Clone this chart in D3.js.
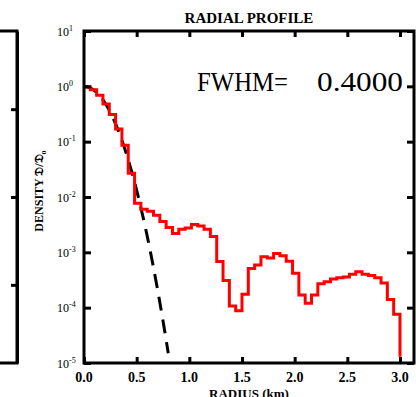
<!DOCTYPE html>
<html>
<head>
<meta charset="utf-8">
<script src="https://cdn.jsdelivr.net/npm/d3@7"></script>
<style>
  body { margin: 0; background: #fff; }
  svg { display: block; }
</style>
</head>
<body>
<script>
    // Histogram bins (radius in km), red profile values per bin
    var binWidth = 0.06;
    var profileValues = [0.97, 0.87, 0.69, 0.48, 0.31, 0.17, 0.086, 0.027, 0.0077, 0.0060,
                         0.0055, 0.0047, 0.0036, 0.0028, 0.0022, 0.0026, 0.00275, 0.0032, 0.0030, 0.0026,
                         0.00194, 6.8e-4, 3.1e-4, 1.07e-4, 8.8e-5, 1.74e-4, 5.1e-4, 5.9e-4, 8.3e-4, 7.9e-4,
                         9.5e-4, 8.7e-4, 6.9e-4, 4.2e-4, 1.7e-4, 1.2e-4, 1.7e-4, 2.7e-4, 2.94e-4, 3.3e-4,
                         3.47e-4, 3.6e-4, 4.0e-4, 4.45e-4, 4.0e-4, 3.8e-4, 3.47e-4, 2.8e-4, 1.4e-4, 7.6e-5];
    var profileEnd = 1.3e-5;

    // Dashed gaussian (FWHM 0.4)
    var gaussRadius = [0, 0.05, 0.1, 0.15, 0.2, 0.25, 0.3, 0.35, 0.4, 0.45, 0.5, 0.55, 0.6, 0.65, 0.7, 0.75, 0.8];
    var gaussValues = [1, 0.958, 0.841, 0.677, 0.50, 0.339, 0.210, 0.120, 0.0625, 0.030, 0.0132, 0.0053, 0.00197, 6.6e-4, 2.04e-4, 5.8e-5, 1.5e-5];

    // Tick labels
    var xTicks = [0.0, 0.5, 1.0, 1.5, 2.0, 2.5, 3.0];
    var yExponents = [1, 0, -1, -2, -3, -4, -5];
    var leftPanelTicks = [-1, 0, 1];

    var W = 416, H = 397;
    var margin = {top: 31, right: 2, bottom: 34, left: 84};
    var width = W - margin.left - margin.right;
    var height = H - margin.top - margin.bottom;

    var serif = "'Liberation Serif', 'Times New Roman', serif";

    var svg = d3.select("body").append("svg")
                .attr("width", W)
                .attr("height", H);

    // Set the ranges
    var x = d3.scaleLinear().domain([0, 3.133]).range([margin.left, margin.left + width]);
    var y = d3.scaleLog().domain([1e-5, 10]).range([margin.top + height, margin.top]);

    var decades = yExponents.map(function(e) { return Math.pow(10, e); });

    // Left (cut off) panel: only its right edge is visible
    var yLeft = d3.scaleLinear().domain([-1.89, 1.89]).range([margin.top + height, margin.top]);
    svg.append("g")
       .attr("transform", "translate(17,0)")
       .call(d3.axisRight(yLeft).tickValues(leftPanelTicks).tickSizeInner(-6).tickSizeOuter(0).tickFormat(""))
       .call(function(g) {
           g.selectAll("line").attr("stroke-width", 3);
           g.select(".domain").attr("stroke-width", 3);
       });
    svg.append("path")
       .attr("d", "M0," + margin.top + "H17V" + (margin.top + height) + "H0")
       .attr("fill", "none")
       .attr("stroke", "#000")
       .attr("stroke-width", 3);

    // Profile histogram
    var profilePts = profileValues.map(function(v, i) { return [i * binWidth, v]; });
    profilePts.push([profileValues.length * binWidth, profileEnd]);

    var stepLine = d3.line()
                     .x(function(d) { return x(d[0]); })
                     .y(function(d) { return y(d[1]); })
                     .curve(d3.curveStepAfter);

    var gaussLine = d3.line()
                      .x(function(d, i) { return x(gaussRadius[i]); })
                      .y(function(d) { return y(d); })
                      .curve(d3.curveMonotoneX);

    svg.append("path")
       .datum(gaussValues)
       .attr("d", gaussLine)
       .attr("fill", "none")
       .attr("stroke", "#000")
       .attr("stroke-width", 3)
       .attr("stroke-dasharray", "14,9");

    svg.append("path")
       .datum(profilePts)
       .attr("d", stepLine)
       .attr("fill", "none")
       .attr("stroke", "#ff0000")
       .attr("stroke-width", 3)
       .attr("stroke-linejoin", "miter");

    // Axes (ticks pointing inward)
    var styleAxis = function(g) {
        g.select(".domain").remove();
        g.selectAll("line").attr("stroke", "#000").attr("stroke-width", 3);
    };

    svg.append("g")
       .attr("transform", "translate(" + margin.left + ",0)")
       .call(d3.axisLeft(y).tickValues(decades).tickSizeInner(-7).tickSizeOuter(0).tickFormat(""))
       .call(styleAxis);
    svg.append("g")
       .attr("transform", "translate(" + (margin.left + width) + ",0)")
       .call(d3.axisRight(y).tickValues(decades).tickSizeInner(-7).tickSizeOuter(0).tickFormat(""))
       .call(styleAxis);
    svg.append("g")
       .attr("transform", "translate(0," + (margin.top + height) + ")")
       .call(d3.axisBottom(x).tickValues(xTicks).tickSizeInner(-6).tickSizeOuter(0).tickFormat(""))
       .call(styleAxis);
    svg.append("g")
       .attr("transform", "translate(0," + margin.top + ")")
       .call(d3.axisTop(x).tickValues(xTicks).tickSizeInner(-6).tickSizeOuter(0).tickFormat(""))
       .call(styleAxis);

    // Frame
    svg.append("rect")
       .attr("x", margin.left)
       .attr("y", margin.top)
       .attr("width", width)
       .attr("height", height)
       .attr("fill", "none")
       .attr("stroke", "#000")
       .attr("stroke-width", 3);

    // Y tick labels 10^n
    var yLab = svg.append("g").selectAll("text")
                  .data(yExponents)
                  .enter().append("text")
                  .attr("x", 57)
                  .attr("y", function(d) { return y(Math.pow(10, d)) + 4.5; })
                  .style("font-family", serif)
                  .style("font-size", "12px");
    yLab.append("tspan").text("10");
    yLab.append("tspan")
        .attr("dy", -5)
        .style("font-size", "8px")
        .text(function(d) { return d < 0 ? "-" + (-d) : "" + d; });

    // X tick labels
    svg.append("g").selectAll("text")
       .data(xTicks)
       .enter().append("text")
       .attr("x", function(d) { return x(d); })
       .attr("y", 382)
       .attr("text-anchor", "middle")
       .style("font-family", serif)
       .style("font-weight", "bold")
       .style("font-size", "14px")
       .text(function(d) { return d.toFixed(1); });

    // Titles
    svg.append("text")
       .attr("x", margin.left + width / 2)
       .attr("y", 23)
       .attr("text-anchor", "middle")
       .style("font-family", serif)
       .style("font-weight", "bold")
       .style("font-size", "15px")
       .text("RADIAL PROFILE");

    svg.append("text")
       .attr("x", margin.left + width / 2)
       .attr("y", 398)
       .attr("text-anchor", "middle")
       .style("font-family", serif)
       .style("font-weight", "bold")
       .style("font-size", "13px")
       .text("RADIUS (km)");

    var yTitle = svg.append("text")
                    .attr("transform", "translate(43,191) rotate(-90)")
                    .attr("text-anchor", "middle")
                    .style("font-family", serif)
                    .style("font-weight", "bold")
                    .style("font-size", "12px");
    yTitle.append("tspan").text("DENSITY \uD835\uDD07/\uD835\uDD07");
    yTitle.append("tspan").attr("dy", 3).style("font-size", "8px").text("o");

    // FWHM annotation
    svg.append("text")
       .attr("x", 197)
       .attr("y", 91)
       .attr("textLength", 91)
       .attr("lengthAdjust", "spacingAndGlyphs")
       .style("font-family", serif)
       .style("font-size", "28px")
       .text("FWHM=");
    svg.append("text")
       .attr("x", 317)
       .attr("y", 91)
       .attr("textLength", 86)
       .attr("lengthAdjust", "spacingAndGlyphs")
       .style("font-family", serif)
       .style("font-size", "28px")
       .text("0.4000");
</script>
</body>
</html>
